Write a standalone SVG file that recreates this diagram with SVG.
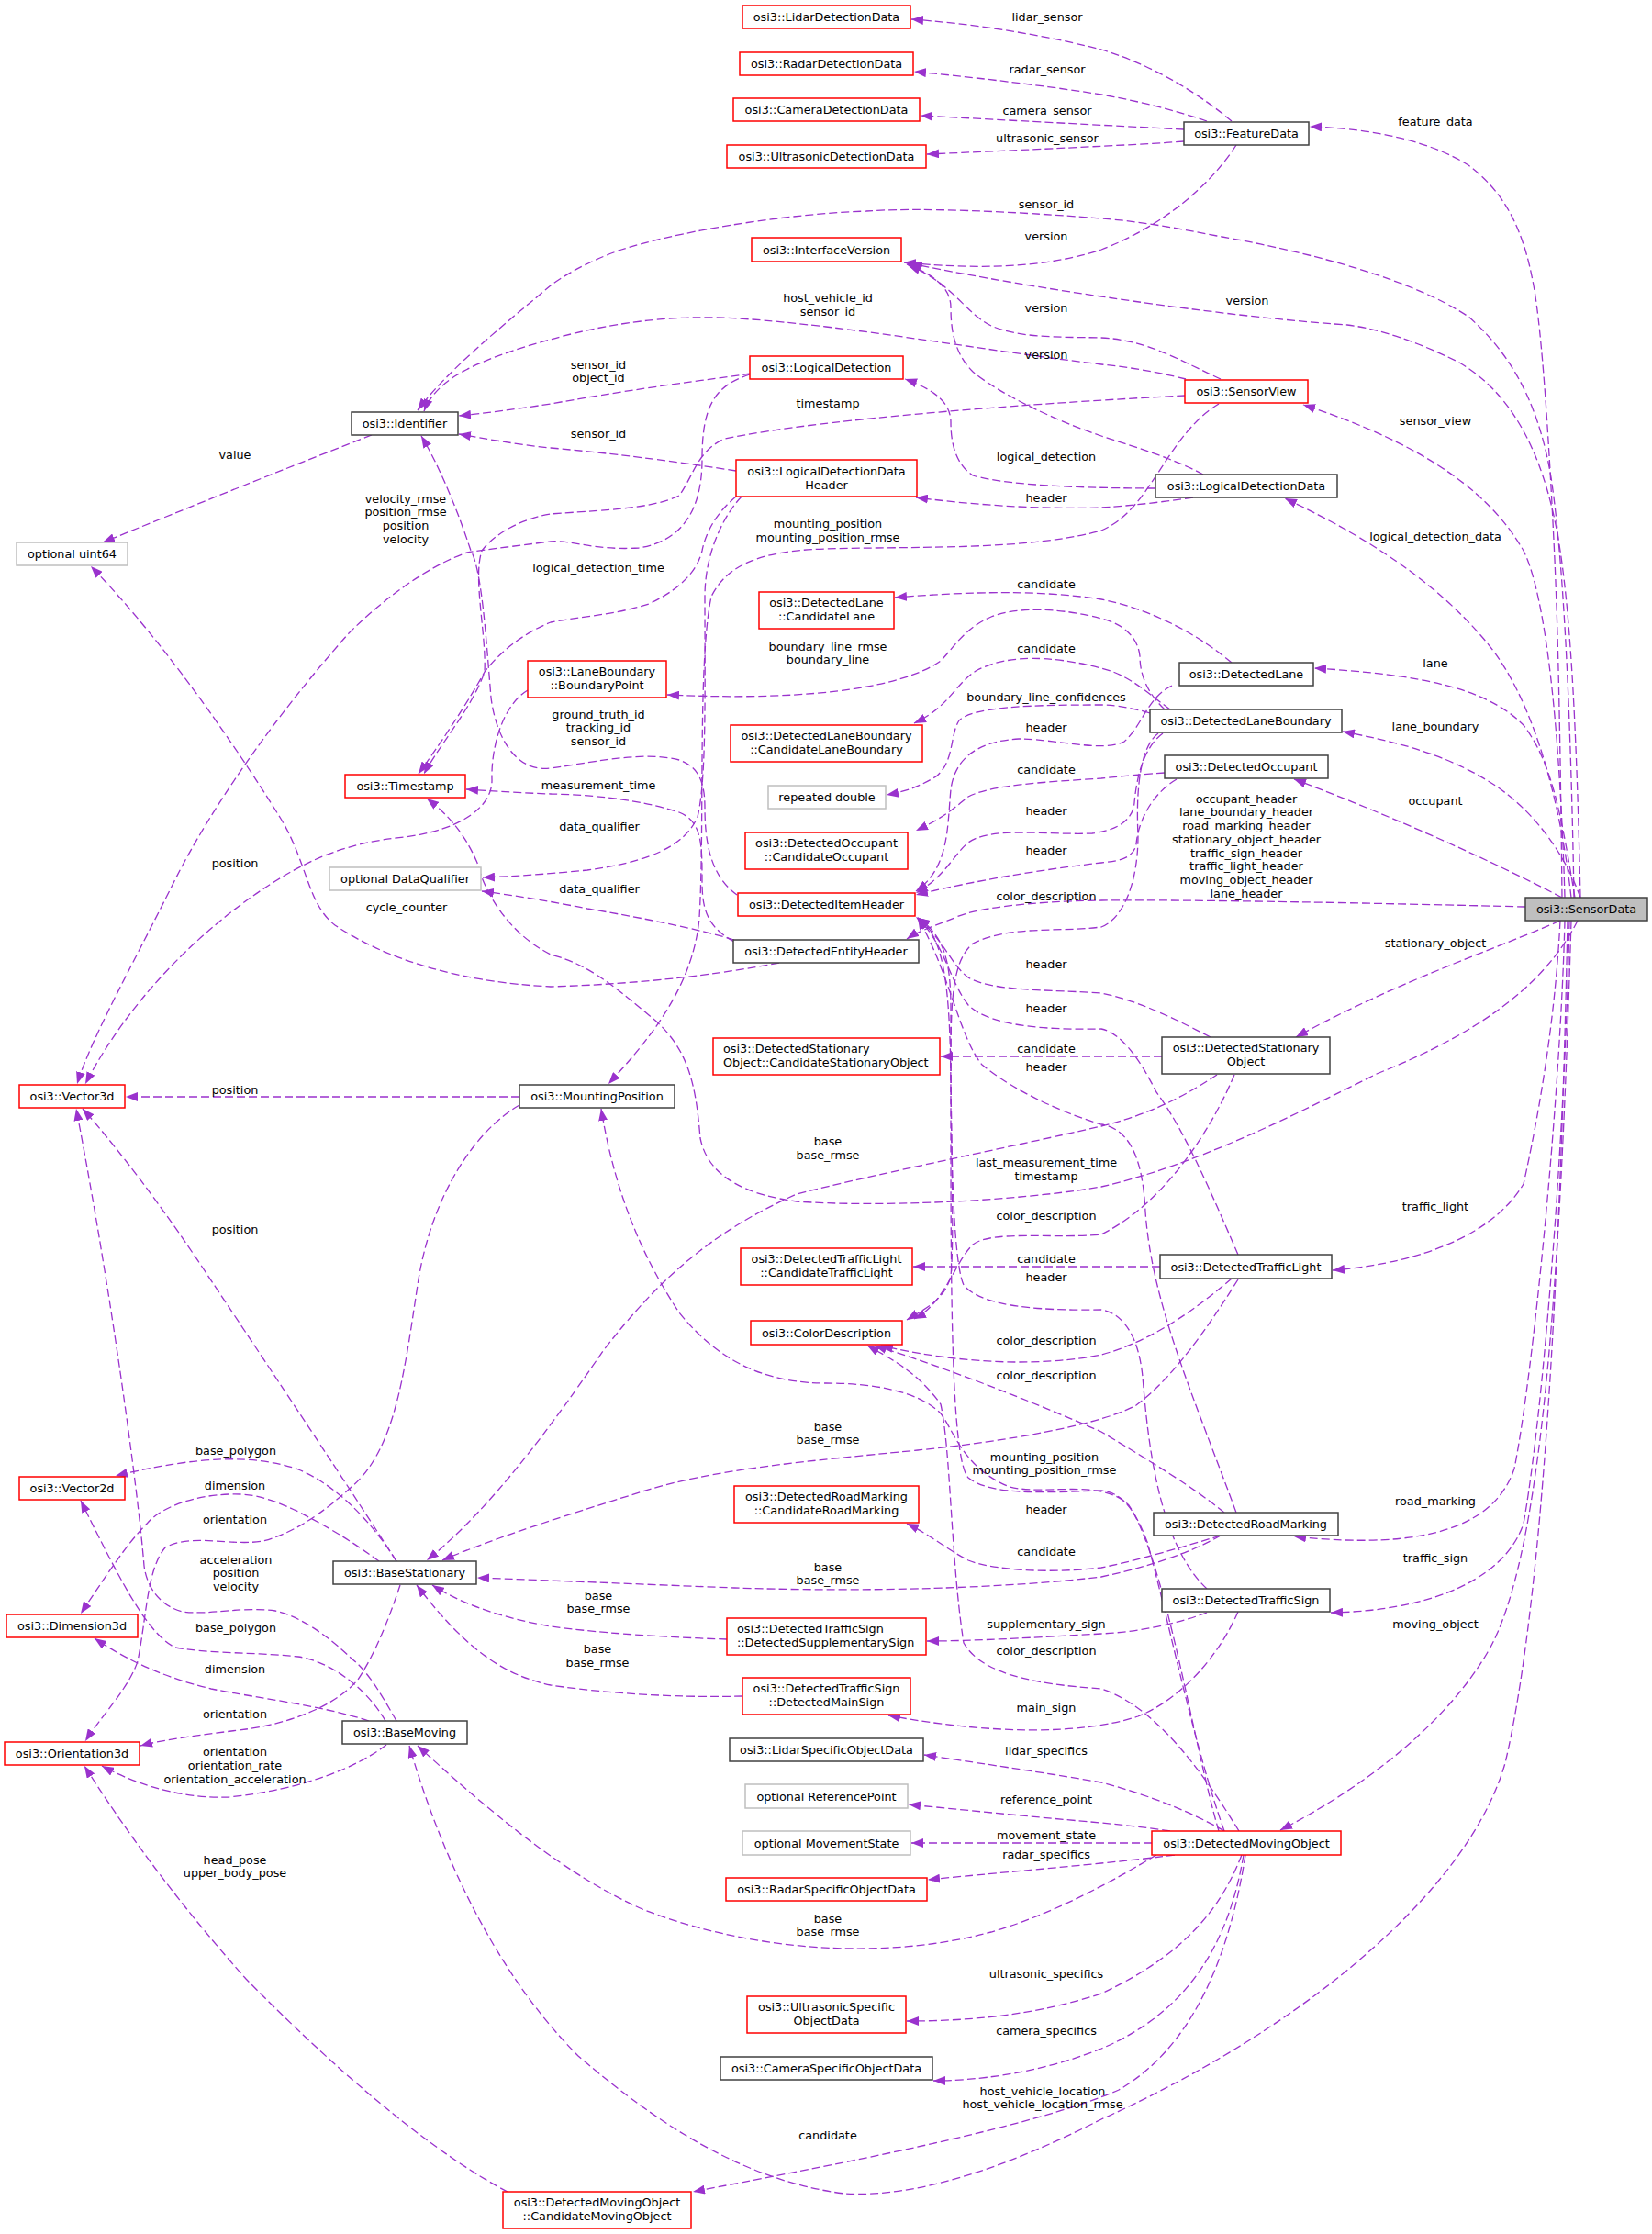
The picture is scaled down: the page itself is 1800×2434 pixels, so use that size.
<svg xmlns="http://www.w3.org/2000/svg" width="1800" height="2434" viewBox="0 0 1800 2434">
<defs>
<marker id="a" markerUnits="userSpaceOnUse" markerWidth="13" markerHeight="10" refX="13" refY="5" orient="auto">
<path d="M0,0 L13,5 L0,10 z" fill="#9a32cd"/>
</marker>
</defs>
<style>
text{font-family:"DejaVu Sans",sans-serif;font-size:12.8px;fill:#000}
.n text{text-anchor:middle}
.n text.l{text-anchor:start}
rect{fill:#fff;stroke-width:1.5}
.b rect{stroke:#404040}
.r rect{stroke:#ff0000}
.g rect{stroke:#bfbfbf}
#edges path{fill:none;stroke:#9a32cd;stroke-width:1.3;stroke-dasharray:9,4;marker-end:url(#a)}
#labels text{text-anchor:middle}
</style>
<rect x="0" y="0" width="1800" height="2434" style="fill:#fff;stroke:none"/>
<g id="edges">
<path d="M1342,132 C1310,105 1260,72 1200,54 C1130,36 1050,25 993,21"/>
<path d="M1315,132 C1280,120 1240,110 1200,103 C1130,92 1050,83 996,78"/>
<path d="M1290,141 C1250,139 1100,131 1003,126"/>
<path d="M1290,154 C1240,158 1100,164 1010,168"/>
<path d="M1347,158 C1320,200 1270,245 1200,272 C1130,295 1050,292 985,286"/>
<path d="M1702,978 C1700,800 1698,700 1694,610 C1688,480 1680,360 1671,311 C1660,250 1640,210 1600,180 C1560,155 1500,140 1427,138"/>
<path d="M1715,978 C1712,800 1705,620 1690,520 C1675,430 1640,380 1600,345 C1540,305 1430,275 1326,257 C1280,248 1240,241 1200,238 C1100,230 1000,226 944,230 C840,234 730,255 677,272 C640,285 615,300 600,311 C560,345 490,400 455,447"/>
<path d="M1722,978 C1718,800 1712,680 1700,600 C1685,500 1650,430 1590,395 C1540,370 1500,358 1468,354 C1380,348 1280,335 1200,323 C1110,310 1030,295 992,287"/>
<path d="M1330,413 C1290,395 1250,370 1200,368 C1150,367 1110,368 1080,355 C1050,340 1040,310 990,289"/>
<path d="M1292,413 C1260,405 1230,400 1200,397 C1100,385 1000,368 900,356 C830,348 790,345 753,346 C700,347 640,358 600,370 C560,380 520,395 497,409 C480,420 468,432 462,448"/>
<path d="M1311,517 C1280,500 1240,488 1200,475 C1150,458 1090,430 1060,405 C1040,385 1036,360 1036,335 C1036,315 1020,300 988,288"/>
<path d="M818,407 C770,414 700,422 600,440 C560,446 530,450 500,453"/>
<path d="M802,513 C750,505 680,495 600,488 C560,484 530,478 500,473"/>
<path d="M1291,431 C1150,438 900,455 790,478 C760,490 755,520 740,540 C710,555 650,556 600,560 C570,565 540,580 525,600 C515,630 530,690 528,732 C515,770 480,810 462,843"/>
<path d="M802,541 C785,555 770,575 765,600 C760,620 745,640 707,658 C670,670 630,672 600,678 C570,690 545,710 528,732 C510,765 480,810 456,843"/>
<path d="M1259,532 C1200,532 1100,530 1060,518 C1040,505 1036,480 1036,460 C1036,440 1020,425 986,413"/>
<path d="M1300,542 C1260,548 1220,552 1200,553 C1130,555 1060,550 998,542"/>
<path d="M1328,440 C1270,475 1255,555 1200,578 C1120,600 1000,595 900,598 C820,600 790,620 775,650 C760,720 768,900 762,1000 C755,1080 700,1140 663,1181"/>
<path d="M1705,978 C1700,800 1685,650 1660,600 C1620,530 1540,480 1420,441"/>
<path d="M1712,978 C1700,870 1670,760 1620,700 C1570,640 1500,590 1400,543"/>
<path d="M405,474 C350,495 200,555 112,591"/>
<path d="M817,408 C780,420 765,440 765,500 C765,560 740,590 696,597 C650,600 620,588 600,590 C560,595 520,600 509,602 C470,615 420,650 380,690 C300,780 230,880 190,960 C140,1060 100,1130 84,1181"/>
<path d="M808,541 C790,560 768,600 768,650 C768,750 770,850 760,890 C745,925 700,940 640,948 C590,953 555,955 526,956"/>
<path d="M1342,722 C1310,695 1260,665 1200,653 C1130,642 1050,645 975,651"/>
<path d="M1269,773 C1250,755 1242,735 1242,715 C1240,695 1225,680 1200,674 C1160,663 1110,660 1080,672 C1050,685 1040,705 1025,720 C990,745 900,765 727,757"/>
<path d="M1275,773 C1250,755 1230,735 1200,728 C1150,715 1100,712 1065,730 C1040,745 1035,770 996,788"/>
<path d="M1253,777 C1230,770 1210,768 1200,768 C1120,768 1060,770 1045,785 C1035,800 1040,830 1020,846 C1005,855 990,862 966,866"/>
<path d="M1277,747 C1250,760 1245,790 1225,808 C1200,820 1150,805 1110,805 C1060,808 1040,830 1036,860 C1032,900 1035,945 998,971"/>
<path d="M1269,842 C1240,844 1220,846 1200,848 C1140,852 1080,855 1055,868 C1040,880 1030,890 998,905"/>
<path d="M1267,799 C1245,815 1238,850 1236,875 C1234,895 1215,905 1190,908 C1140,910 1080,900 1055,918 C1040,930 1030,955 998,973"/>
<path d="M1282,849 C1255,865 1240,895 1238,920 C1235,935 1220,938 1200,940 C1130,948 1060,960 998,975"/>
<path d="M1662,988 C1500,984 1300,980 1200,981 C1120,982 1060,990 1040,1000 C1015,1010 1000,1015 988,1023"/>
<path d="M1262,799 C1240,815 1238,870 1240,910 C1240,960 1225,1000 1200,1010 C1150,1016 1100,1008 1060,1028 C1040,1045 1036,1080 1036,1150 C1036,1250 1040,1350 1036,1390 C1030,1415 1010,1425 988,1438"/>
<path d="M800,1026 C770,1010 765,990 765,960 C765,920 765,895 740,885 C700,872 650,866 600,865 C570,864 540,862 508,860"/>
<path d="M800,1024 C760,1012 700,1000 640,990 C590,980 555,975 525,971"/>
<path d="M849,1049 C780,1062 700,1072 600,1075 C500,1070 420,1045 365,1008 C335,985 335,940 306,892 C260,818 180,700 99,617"/>
<path d="M803,975 C775,955 768,920 768,880 C768,850 760,835 740,828 C700,818 650,830 600,837 C560,842 540,800 535,760 C530,700 525,620 513,600 C500,560 480,510 459,475"/>
<path d="M575,752 C545,770 535,820 536,849 C537,880 500,905 440,912 C380,918 340,935 300,960 C220,1010 140,1090 93,1181"/>
<path d="M1716,978 C1700,880 1690,830 1660,790 C1620,750 1550,735 1432,728"/>
<path d="M1722,978 C1705,930 1670,880 1620,850 C1570,820 1520,808 1463,797"/>
<path d="M1702,978 C1640,945 1520,890 1410,849"/>
<path d="M1700,1003 C1640,1030 1520,1070 1412,1130"/>
<path d="M1719,1003 C1680,1080 1600,1130 1500,1170 C1400,1220 1300,1270 1200,1293 C1100,1310 950,1315 868,1309 C800,1300 770,1275 763,1240 C758,1180 750,1140 707,1106 C670,1075 640,1050 600,1040 C560,1020 530,980 520,940 C505,905 485,885 465,870"/>
<path d="M1319,1130 C1280,1110 1240,1090 1200,1082 C1140,1078 1080,1080 1055,1065 C1035,1050 1030,1025 998,999"/>
<path d="M1349,1367 C1320,1300 1290,1230 1260,1190 C1240,1150 1220,1125 1200,1121 C1150,1122 1080,1120 1055,1095 C1035,1070 1030,1030 1000,1000"/>
<path d="M1347,1648 C1300,1520 1255,1420 1248,1320 C1245,1260 1230,1230 1200,1225 C1150,1210 1100,1185 1070,1160 C1045,1130 1035,1060 1000,1000"/>
<path d="M1266,1151 L1025,1151"/>
<path d="M1345,1171 C1320,1230 1270,1310 1200,1345 C1150,1350 1080,1340 1060,1356 C1040,1375 1030,1420 996,1437"/>
<path d="M1326,1171 C1290,1195 1250,1215 1200,1227 C1100,1250 950,1280 868,1301 C780,1340 720,1390 657,1472 C610,1540 540,1640 465,1700"/>
<path d="M1264,1380 L995,1380"/>
<path d="M1342,1393 C1310,1420 1260,1460 1200,1476 C1130,1490 1040,1485 960,1466"/>
<path d="M1349,1394 C1320,1440 1280,1500 1238,1531 C1200,1552 1100,1570 1000,1580 C880,1592 780,1600 700,1625 C620,1650 540,1675 482,1700"/>
<path d="M1700,1003 C1695,1100 1680,1200 1660,1290 C1630,1340 1560,1375 1452,1384"/>
<path d="M1334,1648 C1300,1620 1250,1590 1200,1560 C1120,1525 1030,1490 953,1466"/>
<path d="M1330,1673 C1290,1685 1240,1700 1200,1708 C1140,1715 1080,1710 1055,1700 C1035,1690 1010,1670 988,1660"/>
<path d="M1330,1673 C1300,1690 1260,1705 1200,1718 C1100,1730 950,1735 800,1730 C700,1726 600,1722 520,1719"/>
<path d="M1705,1003 C1700,1200 1670,1500 1650,1600 C1630,1660 1560,1690 1410,1674"/>
<path d="M1315,1731 C1260,1680 1250,1560 1245,1500 C1240,1450 1220,1430 1200,1427 C1140,1428 1070,1425 1050,1400 C1036,1370 1036,1200 1036,1100 C1036,1050 1030,1020 1000,1000"/>
<path d="M1315,1757 C1280,1770 1240,1778 1200,1780 C1130,1784 1060,1788 1010,1788"/>
<path d="M1349,1756 C1330,1800 1290,1850 1240,1870 C1180,1890 1080,1890 968,1869"/>
<path d="M1710,1003 C1705,1250 1680,1550 1660,1660 C1640,1720 1560,1755 1450,1757"/>
<path d="M792,1786 C730,1784 660,1780 600,1772 C560,1765 510,1752 471,1727"/>
<path d="M809,1848 C740,1850 660,1845 600,1836 C550,1825 510,1800 454,1727"/>
<path d="M1334,1995 C1300,1900 1270,1750 1250,1680 C1235,1640 1220,1626 1200,1624 C1140,1626 1080,1630 1055,1610 C1036,1590 1036,1400 1036,1200 C1036,1080 1030,1020 1000,1000"/>
<path d="M1328,1995 C1300,1900 1270,1700 1230,1640 C1200,1610 1140,1630 1100,1620 C1050,1600 1040,1560 1025,1540 C1000,1515 950,1507 900,1507 C830,1507 780,1480 740,1430 C700,1370 670,1300 655,1208"/>
<path d="M1350,1995 C1310,1930 1260,1860 1200,1840 C1130,1835 1070,1825 1050,1790 C1036,1700 1036,1580 1025,1530 C1000,1495 970,1480 945,1466"/>
<path d="M1334,1995 C1300,1975 1250,1955 1200,1942 C1130,1930 1060,1920 1007,1912"/>
<path d="M1275,1995 C1250,1991 1220,1988 1200,1986 C1120,1979 1050,1972 990,1966"/>
<path d="M1255,2008 L993,2008"/>
<path d="M1280,2021 C1250,2025 1220,2028 1200,2030 C1130,2037 1060,2043 1011,2048"/>
<path d="M1353,2021 C1330,2080 1290,2130 1200,2172 C1130,2195 1060,2202 988,2202"/>
<path d="M1355,2021 C1340,2110 1300,2190 1200,2232 C1130,2260 1060,2267 1017,2267"/>
<path d="M1357,2021 C1340,2130 1300,2230 1219,2277 C1120,2320 900,2360 755,2388"/>
<path d="M1260,2021 C1220,2045 1150,2085 1080,2105 C950,2140 800,2120 700,2080 C620,2045 540,1980 455,1902"/>
<path d="M1712,1003 C1700,1400 1680,1700 1621,1800 C1580,1870 1500,1940 1395,1994"/>
<path d="M1708,1003 C1700,1400 1680,1750 1640,1921 C1600,2060 1420,2210 1200,2309 C1100,2360 1000,2395 920,2390 C800,2375 700,2300 630,2240 C540,2150 480,2020 446,1902"/>
<path d="M566,1195 L137,1195"/>
<path d="M566,1204 C520,1230 470,1300 455,1400 C440,1500 430,1580 383,1620 C350,1650 320,1670 287,1679 C250,1685 210,1670 180,1686 C160,1710 160,1760 150,1810 C140,1840 110,1870 93,1897"/>
<path d="M432,1701 C380,1620 300,1500 220,1380 C160,1290 110,1230 90,1208"/>
<path d="M432,1701 C400,1650 360,1615 325,1601 C280,1585 220,1585 126,1608"/>
<path d="M413,1701 C395,1688 370,1670 325,1647 C290,1630 270,1627 249,1628 C200,1630 170,1648 161,1659 C140,1680 120,1710 88,1758"/>
<path d="M436,1727 C425,1760 410,1800 390,1830 C360,1865 300,1880 268,1884 C220,1890 180,1895 153,1902"/>
<path d="M432,1875 C415,1845 400,1820 383,1807 C360,1785 330,1762 300,1755 C260,1750 230,1760 199,1756 C175,1750 160,1730 157,1706 C150,1620 120,1400 83,1208"/>
<path d="M420,1875 C400,1840 360,1810 325,1805 C280,1800 230,1802 191,1795 C160,1780 130,1720 88,1635"/>
<path d="M402,1875 C350,1858 280,1850 230,1840 C180,1828 140,1810 103,1785"/>
<path d="M421,1901 C390,1925 330,1950 249,1958 C200,1960 150,1945 111,1924"/>
<path d="M553,2388 C480,2350 380,2270 268,2156 C200,2080 140,2000 92,1924"/>
</g>
<g id="labels">
<text x="1141" y="22.5">lidar_sensor</text>
<text x="1141" y="79.5">radar_sensor</text>
<text x="1141" y="124.5">camera_sensor</text>
<text x="1141" y="154.5">ultrasonic_sensor</text>
<text x="1564" y="136.5">feature_data</text>
<text x="1140" y="226.5">sensor_id</text>
<text x="1140" y="261.5">version</text>
<text x="1359" y="331.5">version</text>
<text x="902" y="328.5">host_vehicle_id</text>
<text x="902" y="343.5">sensor_id</text>
<text x="1140" y="339.5">version</text>
<text x="1140" y="390.5">version</text>
<text x="652" y="401.5">sensor_id</text>
<text x="652" y="415.5">object_id</text>
<text x="902" y="443.5">timestamp</text>
<text x="1564" y="462.5">sensor_view</text>
<text x="652" y="476.5">sensor_id</text>
<text x="256" y="499.5">value</text>
<text x="1140" y="501.5">logical_detection</text>
<text x="1140" y="546.5">header</text>
<text x="442" y="547.5">velocity_rmse</text>
<text x="442" y="561.5">position_rmse</text>
<text x="442" y="576.5">position</text>
<text x="442" y="591.5">velocity</text>
<text x="902" y="574.5">mounting_position</text>
<text x="902" y="589.5">mounting_position_rmse</text>
<text x="1564" y="588.5">logical_detection_data</text>
<text x="652" y="622.5">logical_detection_time</text>
<text x="1140" y="640.5">candidate</text>
<text x="902" y="708.5">boundary_line_rmse</text>
<text x="902" y="722.5">boundary_line</text>
<text x="1140" y="710.5">candidate</text>
<text x="1564" y="726.5">lane</text>
<text x="1140" y="764">boundary_line_confidences</text>
<text x="652" y="782.5">ground_truth_id</text>
<text x="652" y="796.5">tracking_id</text>
<text x="652" y="811.5">sensor_id</text>
<text x="1564" y="795.5">lane_boundary</text>
<text x="1140" y="796.5">header</text>
<text x="1140" y="842.5">candidate</text>
<text x="652" y="859.5">measurement_time</text>
<text x="1358" y="875">occupant_header</text>
<text x="1358" y="889">lane_boundary_header</text>
<text x="1358" y="904">road_marking_header</text>
<text x="1358" y="919">stationary_object_header</text>
<text x="1358" y="933.5">traffic_sign_header</text>
<text x="1358" y="948">traffic_light_header</text>
<text x="1358" y="963">moving_object_header</text>
<text x="1358" y="977.5">lane_header</text>
<text x="1564" y="876.5">occupant</text>
<text x="1140" y="887.5">header</text>
<text x="653" y="904.5">data_qualifier</text>
<text x="1140" y="930.5">header</text>
<text x="256" y="944.5">position</text>
<text x="1140" y="980.5">color_description</text>
<text x="653" y="973">data_qualifier</text>
<text x="443" y="992.5">cycle_counter</text>
<text x="1564" y="1031.5">stationary_object</text>
<text x="1140" y="1054.5">header</text>
<text x="1140" y="1102.5">header</text>
<text x="1140" y="1146.5">candidate</text>
<text x="1140" y="1166.5">header</text>
<text x="256" y="1191.5">position</text>
<text x="902" y="1247.5">base</text>
<text x="902" y="1262.5">base_rmse</text>
<text x="1140" y="1271">last_measurement_time</text>
<text x="1140" y="1285.5">timestamp</text>
<text x="1564" y="1318.5">traffic_light</text>
<text x="1140" y="1329">color_description</text>
<text x="256" y="1343.5">position</text>
<text x="1140" y="1375.5">candidate</text>
<text x="1140" y="1395.5">header</text>
<text x="1140" y="1464.5">color_description</text>
<text x="1140" y="1502.5">color_description</text>
<text x="902" y="1559">base</text>
<text x="902" y="1573">base_rmse</text>
<text x="257" y="1585">base_polygon</text>
<text x="1138" y="1591.5">mounting_position</text>
<text x="1138" y="1605.5">mounting_position_rmse</text>
<text x="256" y="1623">dimension</text>
<text x="1564" y="1639.5">road_marking</text>
<text x="1140" y="1648.5">header</text>
<text x="256" y="1659.5">orientation</text>
<text x="1140" y="1694.5">candidate</text>
<text x="1564" y="1701.5">traffic_sign</text>
<text x="257" y="1703.5">acceleration</text>
<text x="257" y="1717.5">position</text>
<text x="257" y="1732.5">velocity</text>
<text x="902" y="1711.5">base</text>
<text x="902" y="1725.5">base_rmse</text>
<text x="652" y="1743">base</text>
<text x="652" y="1757">base_rmse</text>
<text x="1140" y="1773.5">supplementary_sign</text>
<text x="1564" y="1773.5">moving_object</text>
<text x="257" y="1777.5">base_polygon</text>
<text x="651" y="1801">base</text>
<text x="651" y="1815.5">base_rmse</text>
<text x="1140" y="1803">color_description</text>
<text x="256" y="1822.5">dimension</text>
<text x="1140" y="1864.5">main_sign</text>
<text x="256" y="1871.5">orientation</text>
<text x="1140" y="1911.5">lidar_specifics</text>
<text x="256" y="1913">orientation</text>
<text x="256" y="1927.5">orientation_rate</text>
<text x="256" y="1942.5">orientation_acceleration</text>
<text x="1140" y="1965">reference_point</text>
<text x="1140" y="2004">movement_state</text>
<text x="1140" y="2024.5">radar_specifics</text>
<text x="256" y="2031">head_pose</text>
<text x="256" y="2045">upper_body_pose</text>
<text x="902" y="2094.5">base</text>
<text x="902" y="2108.5">base_rmse</text>
<text x="1140" y="2154.5">ultrasonic_specifics</text>
<text x="1140" y="2217">camera_specifics</text>
<text x="1136" y="2282.5">host_vehicle_location</text>
<text x="1136" y="2296.5">host_vehicle_location_rmse</text>
<text x="902" y="2331">candidate</text>
</g>
<g id="n-SensorData" class="n b"><rect x="1662" y="978" width="133" height="25" style="fill:#bfbfbf"/><text x="1728.5" y="995">osi3::SensorData</text></g>
<g id="n-FeatureData" class="n b"><rect x="1290" y="133" width="136" height="25"/><text x="1358" y="150">osi3::FeatureData</text></g>
<g id="n-LidarDetectionData" class="n r"><rect x="809" y="6" width="183" height="25"/><text x="900.5" y="23">osi3::LidarDetectionData</text></g>
<g id="n-RadarDetectionData" class="n r"><rect x="806" y="57" width="189" height="25"/><text x="900.5" y="74">osi3::RadarDetectionData</text></g>
<g id="n-CameraDetectionData" class="n r"><rect x="799" y="107" width="203" height="25"/><text x="900.5" y="124">osi3::CameraDetectionData</text></g>
<g id="n-UltrasonicDetectionData" class="n r"><rect x="792" y="158" width="217" height="25"/><text x="900.5" y="175">osi3::UltrasonicDetectionData</text></g>
<g id="n-InterfaceVersion" class="n r"><rect x="819" y="259" width="163" height="26"/><text x="900.5" y="276.5">osi3::InterfaceVersion</text></g>
<g id="n-LogicalDetection" class="n r"><rect x="817" y="388" width="167" height="25"/><text x="900.5" y="405">osi3::LogicalDetection</text></g>
<g id="n-LogicalDetectionDataHeader" class="n r"><rect x="802" y="501" width="197" height="40"/><text x="900.5" y="518">osi3::LogicalDetectionData</text><text x="900.5" y="533">Header</text></g>
<g id="n-SensorView" class="n r"><rect x="1291" y="414" width="134" height="25"/><text x="1358" y="431">osi3::SensorView</text></g>
<g id="n-LogicalDetectionData" class="n b"><rect x="1259" y="517" width="198" height="25"/><text x="1358" y="534">osi3::LogicalDetectionData</text></g>
<g id="n-Identifier" class="n b"><rect x="383" y="449" width="116" height="25"/><text x="441" y="466">osi3::Identifier</text></g>
<g id="n-uint64" class="n g"><rect x="18" y="591" width="121" height="25"/><text x="78.5" y="608">optional uint64</text></g>
<g id="n-Timestamp" class="n r"><rect x="376" y="844" width="131" height="25"/><text x="441.5" y="861">osi3::Timestamp</text></g>
<g id="n-DataQualifier" class="n g"><rect x="359" y="945" width="165" height="25"/><text x="441.5" y="962">optional DataQualifier</text></g>
<g id="n-Vector3d" class="n r"><rect x="21" y="1182" width="115" height="25"/><text x="78.5" y="1199">osi3::Vector3d</text></g>
<g id="n-MountingPosition" class="n b"><rect x="566" y="1182" width="169" height="25"/><text x="650.5" y="1199">osi3::MountingPosition</text></g>
<g id="n-CandidateLane" class="n r"><rect x="827" y="645" width="147" height="40"/><text x="900.5" y="661">osi3::DetectedLane</text><text x="900.5" y="676">::CandidateLane</text></g>
<g id="n-BoundaryPoint" class="n r"><rect x="575" y="720" width="151" height="40"/><text x="650.5" y="736">osi3::LaneBoundary</text><text x="650.5" y="751">::BoundaryPoint</text></g>
<g id="n-CandidateLaneBoundary" class="n r"><rect x="796" y="790" width="209" height="40"/><text x="900.5" y="806">osi3::DetectedLaneBoundary</text><text x="900.5" y="821">::CandidateLaneBoundary</text></g>
<g id="n-repeatedDouble" class="n g"><rect x="837" y="856" width="128" height="25"/><text x="901" y="873">repeated double</text></g>
<g id="n-CandidateOccupant" class="n r"><rect x="812" y="907" width="177" height="40"/><text x="900.5" y="923">osi3::DetectedOccupant</text><text x="900.5" y="938">::CandidateOccupant</text></g>
<g id="n-DetectedItemHeader" class="n r"><rect x="804" y="973" width="193" height="25"/><text x="900.5" y="990">osi3::DetectedItemHeader</text></g>
<g id="n-DetectedEntityHeader" class="n b"><rect x="799" y="1024" width="202" height="25"/><text x="900" y="1041">osi3::DetectedEntityHeader</text></g>
<g id="n-CandidateStationaryObject" class="n r"><rect x="777" y="1131" width="247" height="40"/><text class="l" x="788" y="1147">osi3::DetectedStationary</text><text class="l" x="788" y="1162">Object::CandidateStationaryObject</text></g>
<g id="n-DetectedLane" class="n b"><rect x="1285" y="722" width="146" height="25"/><text x="1358" y="739">osi3::DetectedLane</text></g>
<g id="n-DetectedLaneBoundary" class="n b"><rect x="1253" y="773" width="209" height="25"/><text x="1357.5" y="790">osi3::DetectedLaneBoundary</text></g>
<g id="n-DetectedOccupant" class="n b"><rect x="1269" y="823" width="178" height="25"/><text x="1358" y="840">osi3::DetectedOccupant</text></g>
<g id="n-DetectedStationaryObject" class="n b"><rect x="1266" y="1130" width="183" height="40"/><text x="1357.5" y="1146">osi3::DetectedStationary</text><text x="1357.5" y="1161">Object</text></g>
<g id="n-Vector2d" class="n r"><rect x="21" y="1609" width="115" height="25"/><text x="78.5" y="1626">osi3::Vector2d</text></g>
<g id="n-Dimension3d" class="n r"><rect x="7" y="1759" width="143" height="25"/><text x="78.5" y="1776">osi3::Dimension3d</text></g>
<g id="n-BaseStationary" class="n b"><rect x="363" y="1701" width="156" height="25"/><text x="441" y="1718">osi3::BaseStationary</text></g>
<g id="n-CandidateTrafficLight" class="n r"><rect x="807" y="1360" width="187" height="40"/><text x="900.5" y="1376">osi3::DetectedTrafficLight</text><text x="900.5" y="1391">::CandidateTrafficLight</text></g>
<g id="n-ColorDescription" class="n r"><rect x="818" y="1439" width="165" height="26"/><text x="900.5" y="1456.5">osi3::ColorDescription</text></g>
<g id="n-CandidateRoadMarking" class="n r"><rect x="800" y="1619" width="201" height="40"/><text x="900.5" y="1635">osi3::DetectedRoadMarking</text><text x="900.5" y="1650">::CandidateRoadMarking</text></g>
<g id="n-DetectedSupplementarySign" class="n r"><rect x="792" y="1763" width="217" height="40"/><text class="l" x="803" y="1779">osi3::DetectedTrafficSign</text><text class="l" x="803" y="1794">::DetectedSupplementarySign</text></g>
<g id="n-DetectedTrafficLight" class="n b"><rect x="1264" y="1367" width="187" height="26"/><text x="1357.5" y="1384.5">osi3::DetectedTrafficLight</text></g>
<g id="n-DetectedRoadMarking" class="n b"><rect x="1257" y="1648" width="201" height="25"/><text x="1357.5" y="1665">osi3::DetectedRoadMarking</text></g>
<g id="n-DetectedTrafficSign" class="n b"><rect x="1266" y="1731" width="183" height="25"/><text x="1357.5" y="1748">osi3::DetectedTrafficSign</text></g>
<g id="n-BaseMoving" class="n b"><rect x="373" y="1875" width="136" height="25"/><text x="441" y="1892">osi3::BaseMoving</text></g>
<g id="n-Orientation3d" class="n r"><rect x="5" y="1898" width="147" height="25"/><text x="78.5" y="1915">osi3::Orientation3d</text></g>
<g id="n-CandidateMovingObject" class="n r"><rect x="548" y="2388" width="205" height="40"/><text x="650.5" y="2404">osi3::DetectedMovingObject</text><text x="650.5" y="2419">::CandidateMovingObject</text></g>
<g id="n-DetectedMainSign" class="n r"><rect x="809" y="1828" width="183" height="40"/><text x="900.5" y="1844">osi3::DetectedTrafficSign</text><text x="900.5" y="1859">::DetectedMainSign</text></g>
<g id="n-LidarSpecificObjectData" class="n b"><rect x="795" y="1894" width="211" height="25"/><text x="900.5" y="1911">osi3::LidarSpecificObjectData</text></g>
<g id="n-ReferencePoint" class="n g"><rect x="812" y="1944" width="177" height="26"/><text x="900.5" y="1961.5">optional ReferencePoint</text></g>
<g id="n-MovementState" class="n g"><rect x="809" y="1995" width="183" height="26"/><text x="900.5" y="2012.5">optional MovementState</text></g>
<g id="n-RadarSpecificObjectData" class="n r"><rect x="791" y="2046" width="219" height="25"/><text x="900.5" y="2063">osi3::RadarSpecificObjectData</text></g>
<g id="n-UltrasonicSpecificObjectData" class="n r"><rect x="814" y="2175" width="173" height="40"/><text x="900.5" y="2191">osi3::UltrasonicSpecific</text><text x="900.5" y="2206">ObjectData</text></g>
<g id="n-CameraSpecificObjectData" class="n b"><rect x="785" y="2241" width="231" height="25"/><text x="900.5" y="2258">osi3::CameraSpecificObjectData</text></g>
<g id="n-DetectedMovingObject" class="n r"><rect x="1255" y="1995" width="206" height="26"/><text x="1358" y="2012.5">osi3::DetectedMovingObject</text></g>
</svg>
